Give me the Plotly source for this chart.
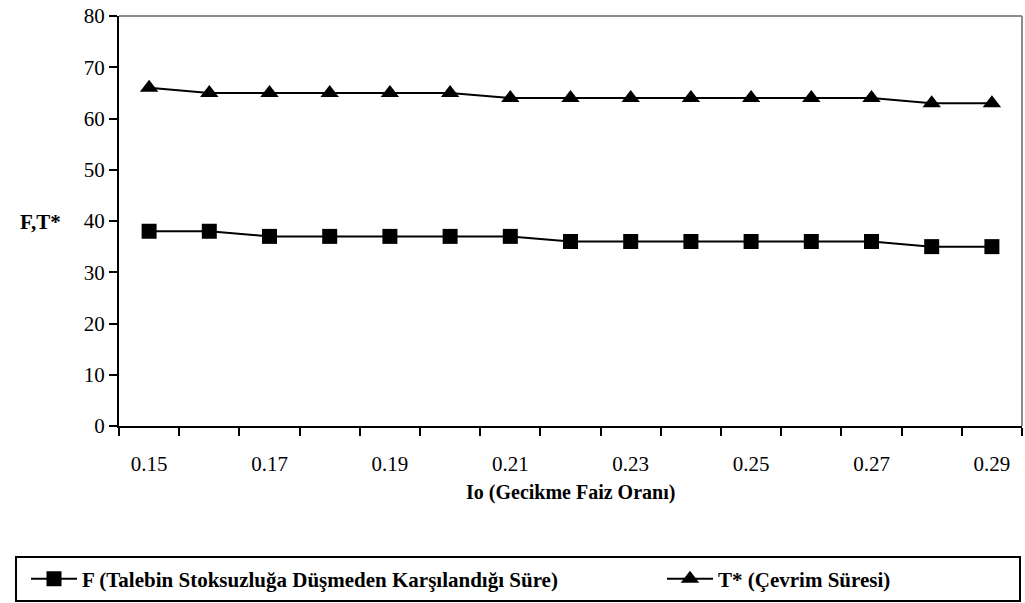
import plotly.graph_objects as go

categories = ["0.15", "0.16", "0.17", "0.18", "0.19", "0.20", "0.21", "0.22",
              "0.23", "0.24", "0.25", "0.26", "0.27", "0.28", "0.29"]
F_values = [38, 38, 37, 37, 37, 37, 37, 36, 36, 36, 36, 36, 36, 35, 35]
T_values = [66, 65, 65, 65, 65, 65, 64, 64, 64, 64, 64, 64, 64, 63, 63]
x_tick_labels = ["0.15", "0.17", "0.19", "0.21", "0.23", "0.25", "0.27", "0.29"]
y_ticks = [0, 10, 20, 30, 40, 50, 60, 70, 80]

xs = [float(c) for c in categories]
FONT = "Liberation Serif"

fig = go.Figure()
fig.add_trace(go.Scatter(
    x=xs, y=F_values, mode="lines+markers",
    name="<b>F (Talebin Stoksuzluğa Düşmeden Karşılandığı Süre)</b>",
    line=dict(color="black", width=2),
    marker=dict(symbol="square", size=15, color="black"),
    legend="legend",
))
fig.add_trace(go.Scatter(
    x=xs, y=T_values, mode="lines+markers",
    name="<b>T* (Çevrim Süresi)</b>",
    line=dict(color="black", width=2),
    marker=dict(symbol="triangle-up", size=16, color="black"),
    legend="legend2",
))

legend_common = dict(
    orientation="h", xanchor="left",
    y=(426 - 579) / 410, yanchor="middle",
    font=dict(family=FONT, size=21, color="black"),
    bgcolor="rgba(0,0,0,0)", borderwidth=0, itemwidth=46,
)

fig.update_layout(
    width=1025, height=603,
    margin=dict(l=119, r=3, t=16, b=177),
    paper_bgcolor="white", plot_bgcolor="white",
    font=dict(family=FONT, size=21, color="black"),
    showlegend=True,
    legend=dict(x=(26 - 119) / 903, **legend_common),
    legend2=dict(x=(662 - 119) / 903, **legend_common),
    xaxis=dict(
        range=[0.145, 0.295],
        tickvals=[float(t) for t in x_tick_labels],
        ticktext=x_tick_labels,
        ticks="outside", ticklen=18, tickcolor="rgba(0,0,0,0)",
        showgrid=False, zeroline=False,
        showline=True, linecolor="black", linewidth=2,
        tickfont=dict(family=FONT, size=21, color="black"),
        minor=dict(tick0=0.145, dtick=0.01, ticks="outside", ticklen=8,
                   tickwidth=2, tickcolor="black", showgrid=False),
    ),
    yaxis=dict(
        range=[0, 80], tickvals=y_ticks,
        ticks="outside", ticklen=8, tickwidth=2, tickcolor="black",
        showgrid=False, zeroline=False,
        showline=True, linecolor="black", linewidth=2,
        tickfont=dict(family=FONT, size=21, color="black"),
    ),
)

# top and right grey plot-area border
fig.add_shape(type="line", xref="paper", yref="paper", x0=0, x1=1, y0=1, y1=1,
              line=dict(color="#8c8c8c", width=2))
fig.add_shape(type="line", xref="paper", yref="paper", x0=1, x1=1, y0=0, y1=1,
              line=dict(color="#8c8c8c", width=2))
# legend box
fig.add_shape(type="rect", xref="paper", yref="paper",
              x0=(16 - 119) / 903, x1=(1020 - 119) / 903,
              y0=(426 - 601) / 410, y1=(426 - 557) / 410,
              line=dict(color="black", width=2))

fig.add_annotation(text="<b>F,T*</b>", xref="paper", yref="paper",
                   x=(63 - 119) / 903, y=(426 - 222) / 410,
                   xanchor="right", yanchor="middle", showarrow=False,
                   font=dict(family=FONT, size=21, color="black"))
fig.add_annotation(text="<b>Io (Gecikme Faiz Oranı)</b>", xref="paper", yref="paper",
                   x=0.5, y=(426 - 493) / 410,
                   xanchor="center", yanchor="middle", showarrow=False,
                   font=dict(family=FONT, size=20, color="black"))

fig.write_html("out.html")
